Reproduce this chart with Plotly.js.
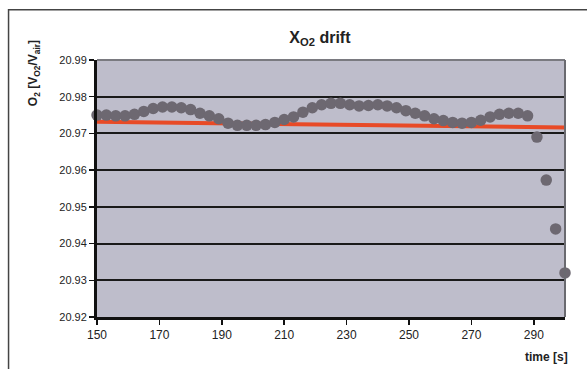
<!DOCTYPE html>
<html>
<head>
<meta charset="utf-8">
<script src="https://cdn.plot.ly/plotly-3.0.1.min.js"></script>
<style>html,body{margin:0;padding:0;background:#fff;}#chart{width:587px;height:369px;}</style>
</head>
<body>
<div id="chart"></div>
<script>
// time [s]
const timeS = [150,153,156,159,162,165,168,171,174,177,180,183,186,189,192,195,198,201,204,207,210,213,216,219,222,225,228,231,234,237,240,243,246,249,252,255,258,261,264,267,270,273,276,279,282,285,288,291,294,297,300];
// O2 fraction
const o2Values = [20.9750,20.9750,20.9748,20.9748,20.9752,20.9760,20.9768,20.9772,20.9772,20.9770,20.9765,20.9755,20.9748,20.9740,20.9728,20.9722,20.9722,20.9722,20.9724,20.9730,20.9738,20.9745,20.9758,20.9770,20.9778,20.9782,20.9782,20.9778,20.9775,20.9776,20.9778,20.9775,20.9770,20.9762,20.9755,20.9748,20.9740,20.9735,20.9730,20.9728,20.9730,20.9736,20.9745,20.9752,20.9755,20.9755,20.9748,20.9690,20.9573,20.9440,20.9320];
// drift trend line
const trendX = [150, 300];
const trendY = [20.9732, 20.9716];
const yTicks = [20.92,20.93,20.94,20.95,20.96,20.97,20.98,20.99];
const xTicks = [150,170,190,210,230,250,270,290];

const traces = [
  {x: trendX, y: trendY, type: 'scatter', mode: 'lines',
   line: {color: '#e84a26', width: 4}, hoverinfo: 'skip', cliponaxis: false},
  {x: timeS, y: o2Values, type: 'scatter', mode: 'markers',
   marker: {color: '#6d6871', size: 11.5, line: {width: 0}}, cliponaxis: false}
];

const layout = {
  width: 587, height: 369,
  margin: {l: 96.5, r: 22, t: 60, b: 52},
  paper_bgcolor: '#ffffff',
  plot_bgcolor: '#bebdcb',
  showlegend: false,
  font: {family: 'Liberation Sans, Arial, sans-serif', color: '#222'},
  title: {text: '<b>X<sub>O2</sub> drift</b>', x: 0.545, xanchor: 'center', y: 0.9, yanchor: 'middle',
          font: {size: 16, color: '#222', family: 'Liberation Sans, Arial, sans-serif'}},
  xaxis: {
    range: [150, 300], tickvals: xTicks, ticktext: xTicks.map(String),
    showgrid: false, zeroline: false,
    showline: true, linecolor: '#111', linewidth: 3,
    ticks: 'outside', ticklen: 5, tickwidth: 1.5, tickcolor: '#111',
    tickfont: {size: 12, color: '#222'}
  },
  yaxis: {
    range: [20.92, 20.99], tickvals: yTicks, ticktext: yTicks.map(v => v.toFixed(2)),
    showgrid: true, gridcolor: '#1a1a1a', gridwidth: 2, zeroline: false,
    showline: true, linecolor: '#111', linewidth: 3,
    ticks: 'outside', ticklen: 5, tickwidth: 1.5, tickcolor: '#111',
    tickfont: {size: 11, color: '#222'}
  },
  shapes: [
    {type: 'line', xref: 'paper', yref: 'paper', x0: 0, x1: 1, y0: 1, y1: 1, line: {color: '#7a7a80', width: 2}, layer: 'above'},
    {type: 'line', xref: 'paper', yref: 'paper', x0: 1, x1: 1, y0: 0, y1: 1, line: {color: '#6a6a70', width: 2}, layer: 'above'},
    {type: 'rect', xref: 'paper', yref: 'paper', x0: -0.189, x1: 1.3, y0: -0.4, y1: 1.196, line: {color: '#444', width: 1.5}, fillcolor: 'rgba(0,0,0,0)', layer: 'below'}
  ],
  annotations: [
    {text: '<b>O<sub>2</sub> [V<sub>O2</sub>/V<sub>air</sub>]</b>', xref: 'paper', yref: 'paper',
     x: -0.134, y: 0.95, xanchor: 'center', yanchor: 'middle', textangle: -90, showarrow: false,
     font: {size: 12, color: '#222'}},
    {text: '<b>time [s]</b>', xref: 'paper', yref: 'paper', x: 1.01, y: -0.155,
     xanchor: 'right', yanchor: 'middle', showarrow: false, font: {size: 12, color: '#222'}}
  ]
};

Plotly.newPlot('chart', traces, layout, {displayModeBar: false, staticPlot: true});
</script>
</body>
</html>
